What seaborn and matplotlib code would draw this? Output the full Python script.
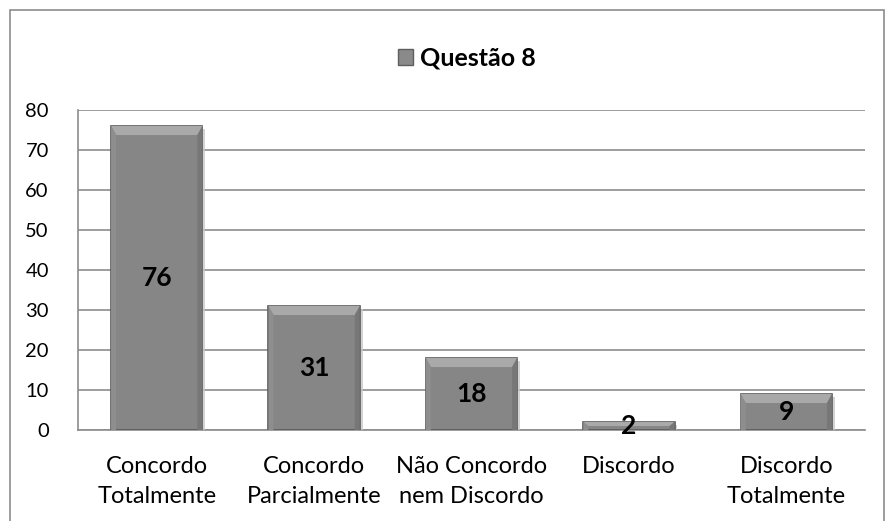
import matplotlib
matplotlib.use('Agg')
import matplotlib.pyplot as plt
import matplotlib.patches as mpatches
import matplotlib.patheffects as pe
import seaborn as sns
import pandas as pd

categorias = ['Concordo\nTotalmente', 'Concordo\nParcialmente', 'Não Concordo\nnem Discordo',
              'Discordo', 'Discordo\nTotalmente']
valores = [76, 31, 18, 2, 9]
serie = 'Questão 8'
y_ticks = [0, 10, 20, 30, 40, 50, 60, 70, 80]

df = pd.DataFrame({'Categoria': categorias, 'Valor': valores})

sns.set_style("white")
plt.rcParams['font.family'] = ['Lato', 'DejaVu Sans']

fig = plt.figure(figsize=(8.94, 5.21), dpi=100)
ax = fig.add_axes([78 / 894, 1 - 430 / 521, (865 - 78) / 894, 320 / 521])

sns.barplot(data=df, x='Categoria', y='Valor', color='#868686', width=0.58,
            edgecolor='#5a5a5a', linewidth=1.2, saturation=1, ax=ax, zorder=3)

ax.set_ylim(0, 80)
ax.set_yticks(y_ticks)
ax.yaxis.grid(True, color='#8c8c8c', linewidth=1.2, zorder=0)
ax.set_axisbelow(True)
ax.set_xlabel('')
ax.set_ylabel('')
for s in ['top', 'right']:
    ax.spines[s].set_visible(False)
for s in ['left', 'bottom']:
    ax.spines[s].set_color('#8c8c8c')
    ax.spines[s].set_linewidth(1.2)
ax.tick_params(axis='y', labelsize=14.5, length=0, pad=21, labelcolor='black')
ax.tick_params(axis='x', labelsize=17, length=0, pad=19, labelcolor='black')
for lbl in ax.get_xticklabels():
    lbl.set_verticalalignment('top')
    lbl.set_linespacing(1.5)

# bevel effect on each bar (derived from the bar patches)
px_x = (ax.get_xlim()[1] - ax.get_xlim()[0]) / 787
px_y = 80 / 320
for bar in ax.patches:
    x0, y0 = bar.get_x(), bar.get_y()
    w, h = bar.get_width(), bar.get_height()
    b = min(9 * px_y, h / 2)
    bx = min(5 * px_x, w / 2)
    top = mpatches.Polygon([(x0, y0 + h), (x0 + w, y0 + h), (x0 + w - bx, y0 + h - b), (x0 + bx, y0 + h - b)],
                           closed=True, facecolor='#a9a9a9', edgecolor='none', zorder=4)
    left = mpatches.Polygon([(x0, y0), (x0, y0 + h), (x0 + bx, y0 + h - b), (x0 + bx, y0)],
                            closed=True, facecolor='#8e8e8e', edgecolor='none', zorder=4)
    right = mpatches.Polygon([(x0 + w, y0), (x0 + w, y0 + h), (x0 + w - bx, y0 + h - b), (x0 + w - bx, y0)],
                             closed=True, facecolor='#777777', edgecolor='none', zorder=4)
    for p in (top, left, right):
        ax.add_patch(p)
    bar.set_path_effects([pe.SimplePatchShadow(offset=(2, -2), shadow_rgbFace='#c8c8c8', alpha=0.8),
                          pe.Normal()])

ax.bar_label(ax.containers[0], label_type='center', fontsize=19, fontweight='bold',
             color='black', zorder=6)

handle = mpatches.Patch(facecolor='#8a8a8a', edgecolor='#5e5e5e', label=serie)
leg = fig.legend(handles=[handle], loc='center', bbox_to_anchor=(467 / 894, 1 - 58 / 521),
                 frameon=False, handlelength=0.6, handleheight=0.6, handletextpad=0.3,
                 prop={'family': 'Lato', 'weight': 'bold', 'size': 18})
for t in leg.get_texts():
    t.set_color('black')

border = mpatches.Rectangle((10 / 894, -0.02), 874 / 894, 1 - 10 / 521 + 0.02,
                            transform=fig.transFigure, fill=False,
                            edgecolor='#8c8c8c', linewidth=1.2)
fig.patches.append(border)

fig.savefig('out.png', dpi=100)
